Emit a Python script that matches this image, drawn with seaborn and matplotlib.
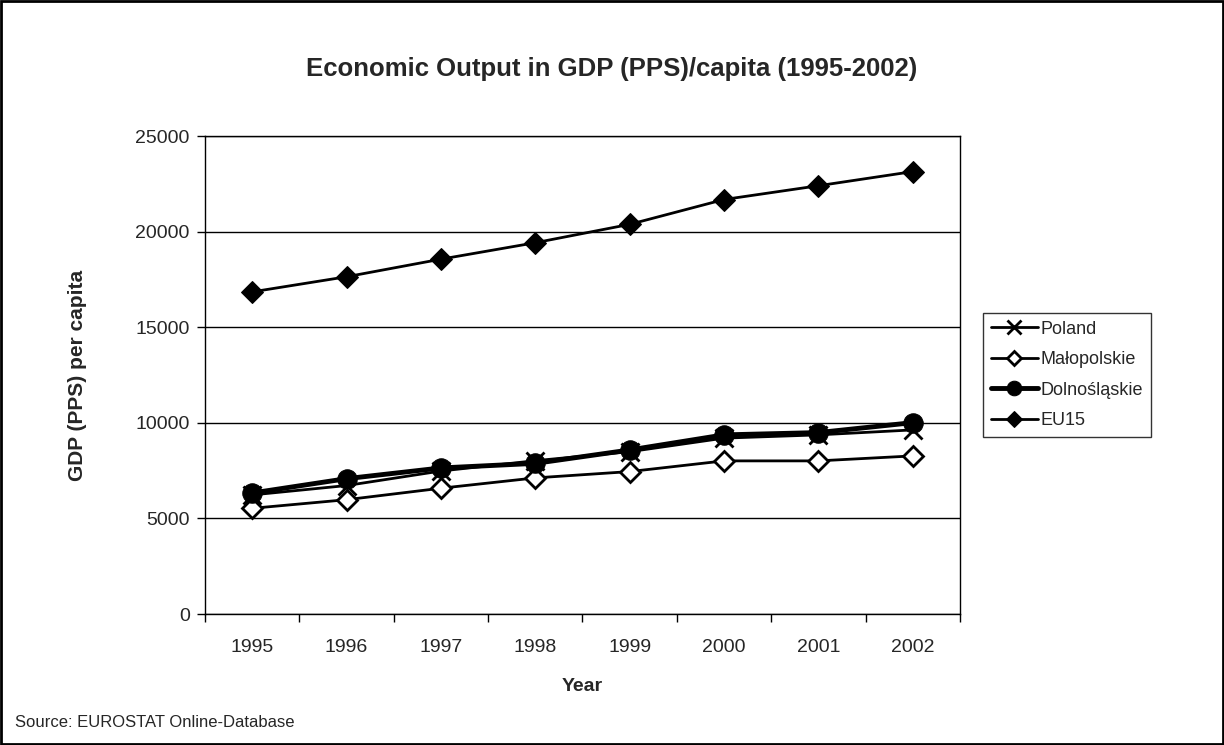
import numpy as np
import pandas as pd
import matplotlib.pyplot as plt
import seaborn as sns
from matplotlib.patches import Rectangle

#%% data
years = ["1995", "1996", "1997", "1998", "1999", "2000", "2001", "2002"]
poland = [6230, 6720, 7480, 8020, 8490, 9200, 9370, 9630]
malopolskie = [5530, 5980, 6580, 7120, 7450, 8010, 8010, 8270]
dolnoslaskie = [6330, 7080, 7640, 7880, 8580, 9370, 9490, 10010]
eu15 = [16850, 17640, 18560, 19420, 20380, 21680, 22400, 23140]

df = pd.DataFrame({"pos": np.arange(len(years)), "year": years,
                   "Poland": poland, "Małopolskie": malopolskie,
                   "Dolnośląskie": dolnoslaskie, "EU15": eu15})

#%% plot
sns.set_style("white")
plt.rcParams["font.family"] = ["Liberation Sans", "DejaVu Sans"]

fig = plt.figure(figsize=(12.24, 7.45), dpi=100)
ax = fig.add_axes([0.1675, 0.1758, 0.6167, 0.6416])

styles = {
    "Poland": dict(marker="x", markersize=13, markeredgewidth=2,
                   markeredgecolor="black", linewidth=2, color="black"),
    "Małopolskie": dict(marker="D", markersize=10, markerfacecolor="white",
                        markeredgecolor="black", markeredgewidth=2,
                        linewidth=2, color="black"),
    "Dolnośląskie": dict(marker="o", markersize=14, markeredgecolor="black",
                         linewidth=3.5, color="black"),
    "EU15": dict(marker="D", markersize=11, markeredgecolor="black",
                 linewidth=2, color="black"),
}

for name, st in styles.items():
    sns.lineplot(data=df, x="pos", y=name, ax=ax, label=name, **st)

ax.set_xlim(-0.5, len(years) - 0.5)
ax.set_ylim(0, 25000)
ax.set_yticks(range(0, 25001, 5000))
ax.set_xticks(df["pos"])
ax.set_xticklabels(years)
ax.set_xticks(np.arange(-0.5, len(years), 1), minor=True)
ax.tick_params(axis="x", which="major", length=0, labelsize=14, pad=18)
ax.tick_params(axis="x", which="minor", length=6, width=1, direction="out",
               color="black", bottom=True)
ax.tick_params(axis="y", length=6, width=1, direction="out", color="black",
               left=True, labelsize=14, pad=5)
ax.grid(axis="y", color="black", linewidth=1)
for s in ax.spines.values():
    s.set_color("black")
    s.set_linewidth(1)

ax.set_xlabel("Year", fontsize=14, fontweight="bold", va="center")
ax.xaxis.set_label_coords(0.5, -0.152)
ax.set_ylabel("GDP (PPS) per capita", fontsize=15, fontweight="bold",
              va="center")
ax.yaxis.set_label_coords(-0.169, 0.5)
fig.text(0.5, 0.898, "Economic Output in GDP (PPS)/capita (1995-2002)",
         fontsize=18.5, fontweight="bold", ha="center", va="baseline")

leg = ax.legend(loc="center left", bbox_to_anchor=(1.03, 0.5), fontsize=13,
                frameon=True, fancybox=False, edgecolor="black",
                handlelength=2.6, handletextpad=0.15, borderpad=0.45,
                labelspacing=0.75, borderaxespad=0, markerscale=0.75)
leg.get_frame().set_linewidth(1)

fig.text(0.012, 0.024, "Source: EUROSTAT Online-Database", fontsize=12)
fig.patches.append(Rectangle((0.001, 0.001), 0.998, 0.998,
                             transform=fig.transFigure, fill=False,
                             edgecolor="black", linewidth=2))

plt.savefig("out.png", dpi=100)
